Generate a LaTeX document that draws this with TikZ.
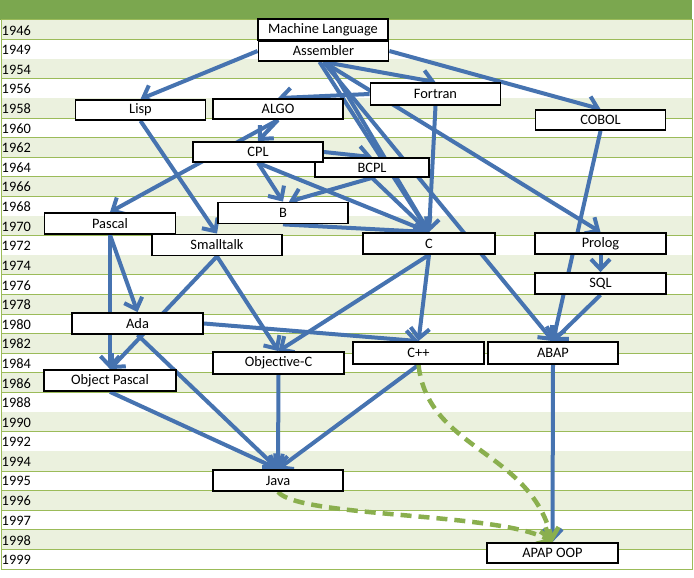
\documentclass[tikz,border=0pt]{standalone}
\usepackage{fontspec}
\setmainfont{Carlito}
\usetikzlibrary{arrows.meta}
\pgfdeclarelayer{grid}
\pgfdeclarelayer{links}
\pgfsetlayers{grid,links,main}
\definecolor{hdrgreen}{HTML}{7BA74F}
\definecolor{rowgreen}{HTML}{EBF1DE}
\definecolor{linegreen}{HTML}{9BBB59}
\definecolor{arrowblue}{HTML}{4673B0}
\definecolor{dashgreen}{HTML}{8AAF4E}
\begin{document}
\begin{tikzpicture}[x=1pt,y=-1pt,
  lang/.style={draw=black,line width=1.8pt,fill=white,minimum width=130pt,minimum height=21pt,inner sep=0pt,font=\fontsize{14.4}{16}\selectfont},
  link/.style={draw=arrowblue,line width=4pt,-{Straight Barb[length=10pt,width=19pt]}},
  later/.style={draw=dashgreen,line width=4.5pt,dash pattern=on 11pt off 7pt,-{Straight Barb[length=10pt,width=19pt]}},
  yearlbl/.style={anchor=west,inner sep=0pt,font=\fontsize{14.4}{16}\selectfont}]
  \useasboundingbox (0,0) rectangle (694,578);
  % table
  \begin{pgfonlayer}{grid}
    \fill[white] (0,0) rectangle (694,578);
    \fill[hdrgreen] (0,0) rectangle (692,20);
    \foreach \yr [count=\i from 0] in {1946,1949,1954,1956,1958,1960,1962,1964,1966,1968,1970,1972,1974,1976,1978,1980,1982,1984,1986,1988,1990,1992,1994,1995,1996,1997,1998,1999} {
      \pgfmathsetmacro\rowtop{20+19.61*\i}
      \ifodd\i\else \fill[rowgreen] (1,\rowtop) rectangle (692,\rowtop+19.61); \fi
      \draw[linegreen,line width=1pt] (1,\rowtop+19.61) -- (692,\rowtop+19.61);
      \node[yearlbl] (y\yr) at (1.5,\rowtop+10.3) {\yr};
    }
    \draw[linegreen,line width=1pt] (1,20) rectangle (692,569);
  \end{pgfonlayer}
  % languages
  \node[lang] (ml) at (323,29.5) {Machine Language};
  \node[lang,minimum height=20pt] (asm) at (323.5,51) {Assembler};
  \node[lang,minimum height=22pt] (fortran) at (435.5,94) {Fortran};
  \node[lang,minimum height=20pt] (lisp) at (140.5,110) {Lisp};
  \node[lang,minimum height=20pt] (algo) at (278,109) {ALGO};
  \node[lang,minimum height=20pt] (cobol) at (600.5,120) {COBOL};
  \node[lang,minimum width=114pt,minimum height=19pt] (bcpl) at (372,167.5) {BCPL};
  \node[lang,minimum height=20pt] (cpl) at (258,152) {CPL};
  \node[lang] (b) at (283,213) {B};
  \node[lang,minimum width=131pt] (pascal) at (110,223.5) {Pascal};
  \node[lang] (smalltalk) at (217,245) {Smalltalk};
  \node[lang,minimum width=132pt] (c) at (429,243.5) {C};
  \node[lang,minimum width=131pt] (prolog) at (600.5,243.5) {Prolog};
  \node[lang,minimum width=131pt] (sql) at (600.5,283.5) {SQL};
  \node[lang,minimum width=131pt] (ada) at (137.5,323.5) {Ada};
  \node[lang,minimum width=131pt,minimum height=22pt] (objc) at (278.5,363) {Objective-C};
  \node[lang,minimum width=132pt] (objpascal) at (110,380.5) {Object Pascal};
  \node[lang,minimum width=131pt,minimum height=22pt] (cpp) at (418.5,353) {C++};
  \node[lang,minimum height=22pt] (abap) at (553,353) {ABAP};
  \node[lang] (java) at (278,480.5) {Java};
  \node[lang,minimum width=131pt,minimum height=20pt] (abapoop) at (552.5,553) {APAP OOP};
  % influences
  \begin{pgfonlayer}{links}
    \draw[link] (asm.west) -- (lisp.north);
    \draw[link] (asm.south) -- (fortran.north);
    \draw[link] (asm.east) -- (cobol.north);
    \draw[link] ([xshift=-4pt]asm.south) -- (c.north);
    \draw[link] ([xshift=4pt]asm.south) -- (c.north);
    \draw[link] (asm.south) -- (abap.north);
    \draw[link] (asm.south) -- (prolog.north);
    \draw[link] (fortran.west) -- (algo.north);
    \draw[link] (fortran.south) -- (c.north);
    \draw[link] (algo.south) -- (cpl.north);
    \draw[link] (algo.south) -- (pascal.north);
    \draw[link] (cpl.east) -- (bcpl.north);
    \draw[link] (cpl.south) -- (b.north);
    \draw[link] (cpl.south) -- (c.north);
    \draw[link] (bcpl.south) -- ([xshift=6pt]b.north);
    \draw[link] (bcpl.south) -- (c.north);
    \draw[link] (b.south) -- (c.north);
    \draw[link] (lisp.south) -- (smalltalk.north);
    \draw[link] (pascal.south) -- (ada.north);
    \draw[link] (pascal.south) -- (objpascal.north);
    \draw[link] (smalltalk.south) -- (objpascal.north);
    \draw[link] (smalltalk.south) -- (objc.north);
    \draw[link] (c.south) -- (objc.north);
    \draw[link] (c.south) -- (cpp.north);
    \draw[link] (ada.east) -- (cpp.north);
    \draw[link] (ada.south) -- (java.north);
    \draw[link] (objpascal.south) -- (java.north);
    \draw[link] (objc.south) -- (java.north);
    \draw[link] (cpp.south) -- (java.north);
    \draw[link] (prolog.south) -- (sql.north);
    \draw[link] (cobol.south) -- (abap.north);
    \draw[link] (sql.south) -- (abap.north);
    \draw[link] (abap.south) -- (abapoop.north);
    % dashed
    \draw[later] (cpp.south) .. controls (428,450) and (530,450) .. (abapoop.north);
    \draw[later] (java.south) .. controls (300,518) and (500,512) .. (abapoop.north);
  \end{pgfonlayer}
\end{tikzpicture}
\end{document}
